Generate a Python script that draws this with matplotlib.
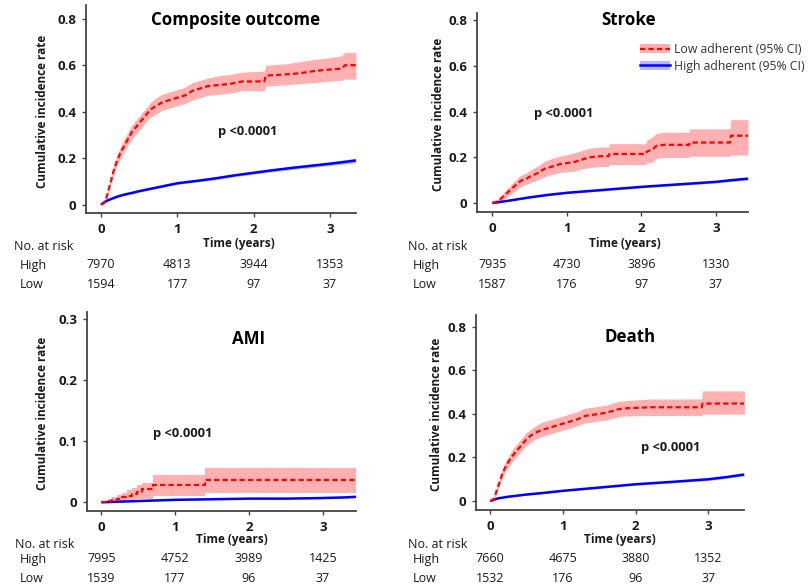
import matplotlib
matplotlib.use("Agg")
import matplotlib.pyplot as plt
from matplotlib.patches import Patch
from matplotlib.lines import Line2D
from matplotlib.transforms import blended_transform_factory

W, H = 809, 586
plt.rcParams['font.family'] = ['Open Sans', 'DejaVu Sans']

# ---------------- data ----------------
titles = ["Composite outcome", "Stroke", "AMI", "Death"]
time_ticks = [0, 1, 2, 3]
time_tick_labels = ["0", "1", "2", "3"]
yticks_main = [0, 0.2, 0.4, 0.6, 0.8]
ytick_labels_main = ["0", "0.2", "0.4", "0.6", "0.8"]
yticks_ami = [0, 0.1, 0.2, 0.3]
ytick_labels_ami = ["0", "0.1", "0.2", "0.3"]
risk_groups = ["High", "Low"]
p_text = "p <0.0001"
legend_labels = ["Low adherent (95% CI)", "High adherent (95% CI)"]

# Composite outcome
comp_low_t = [0, 0.05, 0.08, 0.12, 0.16, 0.2, 0.25, 0.3, 0.35, 0.4, 0.45, 0.5, 0.55, 0.6, 0.65, 0.7, 0.75, 0.8, 0.9, 1.0, 1.1, 1.2, 1.3, 1.4, 1.55, 1.7, 1.85, 2.14, 2.16, 2.4, 2.6, 2.8, 2.95, 3.15, 3.2, 3.34]
comp_low_v = [0, 0.01, 0.04, 0.09, 0.14, 0.18, 0.22, 0.25, 0.28, 0.31, 0.33, 0.35, 0.37, 0.39, 0.41, 0.42, 0.43, 0.44, 0.45, 0.46, 0.47, 0.49, 0.50, 0.51, 0.515, 0.52, 0.53, 0.53, 0.555, 0.56, 0.565, 0.575, 0.58, 0.585, 0.60, 0.60]
comp_low_lo = [0, 0.005, 0.03, 0.075, 0.12, 0.16, 0.195, 0.225, 0.255, 0.28, 0.30, 0.32, 0.34, 0.36, 0.375, 0.385, 0.395, 0.405, 0.415, 0.425, 0.435, 0.45, 0.46, 0.47, 0.475, 0.48, 0.49, 0.49, 0.51, 0.515, 0.52, 0.525, 0.53, 0.535, 0.54, 0.54]
comp_low_hi = [0, 0.02, 0.055, 0.105, 0.16, 0.20, 0.245, 0.28, 0.31, 0.34, 0.36, 0.38, 0.40, 0.42, 0.44, 0.455, 0.465, 0.475, 0.485, 0.495, 0.505, 0.525, 0.535, 0.545, 0.555, 0.56, 0.57, 0.575, 0.60, 0.605, 0.615, 0.625, 0.63, 0.64, 0.655, 0.655]
comp_high_t = [0, 0.05, 0.1, 0.2, 0.3, 0.4, 0.5, 0.75, 1.0, 1.25, 1.5, 1.75, 2.0, 2.25, 2.5, 2.75, 3.0, 3.15, 3.34]
comp_high_v = [0, 0.012, 0.02, 0.033, 0.043, 0.05, 0.058, 0.075, 0.092, 0.102, 0.113, 0.126, 0.137, 0.148, 0.158, 0.167, 0.176, 0.182, 0.19]
comp_high_ci = [0, 0.002, 0.003, 0.003, 0.004, 0.004, 0.004, 0.005, 0.005, 0.005, 0.006, 0.006, 0.006, 0.007, 0.007, 0.008, 0.008, 0.009, 0.01]
comp_risk_high = [7970, 4813, 3944, 1353]
comp_risk_low = [1594, 177, 97, 37]

# Stroke
strk_low_t = [0, 0.05, 0.1, 0.15, 0.2, 0.25, 0.3, 0.35, 0.4, 0.45, 0.5, 0.6, 0.7, 0.8, 0.9, 1.0, 1.1, 1.2, 1.3, 1.45, 1.56, 1.57, 2.06, 2.07, 2.15, 2.2, 2.3, 2.64, 2.65, 3.19, 3.2, 3.43]
strk_low_v = [0, 0.005, 0.015, 0.03, 0.045, 0.06, 0.075, 0.09, 0.10, 0.105, 0.115, 0.13, 0.15, 0.16, 0.17, 0.175, 0.18, 0.19, 0.20, 0.205, 0.205, 0.215, 0.215, 0.225, 0.235, 0.25, 0.255, 0.255, 0.265, 0.265, 0.295, 0.295]
strk_low_lo = [0, 0, 0.005, 0.015, 0.028, 0.04, 0.052, 0.065, 0.075, 0.08, 0.088, 0.10, 0.115, 0.125, 0.133, 0.137, 0.14, 0.15, 0.155, 0.16, 0.16, 0.168, 0.168, 0.175, 0.18, 0.195, 0.2, 0.2, 0.205, 0.205, 0.21, 0.21]
strk_low_hi = [0, 0.012, 0.028, 0.047, 0.063, 0.08, 0.098, 0.113, 0.125, 0.13, 0.143, 0.16, 0.183, 0.195, 0.205, 0.212, 0.22, 0.23, 0.24, 0.245, 0.245, 0.26, 0.26, 0.275, 0.29, 0.305, 0.31, 0.31, 0.325, 0.325, 0.365, 0.365]
strk_high_t = [0, 0.25, 0.5, 0.75, 1.0, 1.5, 2.0, 2.5, 3.0, 3.2, 3.43]
strk_high_v = [0, 0.012, 0.025, 0.036, 0.045, 0.058, 0.071, 0.082, 0.093, 0.1, 0.107]
strk_high_ci = [0, 0.002, 0.003, 0.003, 0.003, 0.004, 0.004, 0.005, 0.005, 0.006, 0.006]
strk_risk_high = [7935, 4730, 3896, 1330]
strk_risk_low = [1587, 176, 97, 37]

# AMI (step function)
ami_low_t = [0, 0.1, 0.15, 0.22, 0.28, 0.35, 0.42, 0.48, 0.55, 0.7, 1.4, 3.45]
ami_low_v = [0, 0.002, 0.004, 0.006, 0.008, 0.011, 0.014, 0.017, 0.021, 0.029, 0.037, 0.037]
ami_low_lo = [0, 0, 0.0005, 0.001, 0.002, 0.003, 0.004, 0.005, 0.006, 0.010, 0.015, 0.015]
ami_low_hi = [0, 0.006, 0.009, 0.012, 0.016, 0.02, 0.024, 0.028, 0.032, 0.044, 0.057, 0.057]
ami_high_t = [0, 0.5, 1.0, 1.5, 2.0, 2.5, 3.0, 3.3, 3.45]
ami_high_v = [0, 0.002, 0.004, 0.005, 0.006, 0.006, 0.007, 0.008, 0.009]
ami_high_ci = [0, 0.0005, 0.0008, 0.001, 0.001, 0.001, 0.0012, 0.0014, 0.0015]
ami_risk_high = [7995, 4752, 3989, 1425]
ami_risk_low = [1539, 177, 96, 37]

# Death
death_low_t = [0, 0.05, 0.08, 0.12, 0.16, 0.2, 0.25, 0.3, 0.35, 0.4, 0.45, 0.5, 0.55, 0.6, 0.7, 0.8, 0.9, 1.0, 1.1, 1.2, 1.3, 1.4, 1.6, 1.75, 1.85, 2.2, 2.91, 2.92, 3.5]
death_low_v = [0, 0.01, 0.04, 0.08, 0.12, 0.15, 0.18, 0.205, 0.225, 0.245, 0.265, 0.285, 0.298, 0.31, 0.325, 0.335, 0.345, 0.355, 0.365, 0.375, 0.39, 0.395, 0.405, 0.42, 0.425, 0.43, 0.43, 0.447, 0.447]
death_low_lo = [0, 0.005, 0.028, 0.065, 0.1, 0.13, 0.155, 0.18, 0.2, 0.22, 0.24, 0.255, 0.268, 0.28, 0.295, 0.305, 0.315, 0.325, 0.335, 0.345, 0.358, 0.362, 0.372, 0.385, 0.39, 0.392, 0.392, 0.398, 0.398]
death_low_hi = [0, 0.015, 0.05, 0.095, 0.14, 0.175, 0.205, 0.235, 0.255, 0.275, 0.295, 0.315, 0.328, 0.34, 0.36, 0.37, 0.38, 0.39, 0.4, 0.41, 0.425, 0.43, 0.44, 0.455, 0.46, 0.468, 0.468, 0.505, 0.505]
death_high_t = [0, 0.1, 0.25, 0.5, 0.75, 1.0, 1.5, 2.0, 2.5, 3.0, 3.25, 3.5]
death_high_v = [0, 0.012, 0.02, 0.03, 0.038, 0.047, 0.062, 0.077, 0.088, 0.1, 0.11, 0.122]
death_high_ci = [0, 0.002, 0.002, 0.003, 0.003, 0.003, 0.004, 0.004, 0.005, 0.006, 0.006, 0.007]
death_risk_high = [7660, 4675, 3880, 1352]
death_risk_low = [1532, 176, 96, 37]

# ---------------- layout (pixels) ----------------
panels = [
    dict(title=titles[0], rect=(86, 5, 356, 213), xlim=(-0.197, 3.342), ylim=(-0.036, 0.859),
         yt=yticks_main, ytl=ytick_labels_main, step=False,
         low=(comp_low_t, comp_low_v, comp_low_lo, comp_low_hi),
         high=(comp_high_t, comp_high_v, comp_high_ci),
         risk=(comp_risk_high, comp_risk_low),
         title_xy=(236, 20), p_xy=(218, 132), xlab_x=239, xlab_y=244,
         ylab_x=43, risk_x0=14, risk_x1=20, risk_y=(246, 265, 285)),
    dict(title=titles[1], rect=(477, 13, 748, 212), xlim=(-0.206, 3.43), ylim=(-0.039, 0.832),
         yt=yticks_main, ytl=ytick_labels_main, step=False,
         low=(strk_low_t, strk_low_v, strk_low_lo, strk_low_hi),
         high=(strk_high_t, strk_high_v, strk_high_ci),
         risk=(strk_risk_high, strk_risk_low),
         title_xy=(629, 20), p_xy=(534, 113), xlab_x=625, xlab_y=244,
         ylab_x=438, risk_x0=408, risk_x1=413, risk_y=(246, 265, 285)),
    dict(title=titles[2], rect=(87, 312, 356, 511), xlim=(-0.193, 3.45), ylim=(-0.0143, 0.312),
         yt=yticks_ami, ytl=ytick_labels_ami, step=True,
         low=(ami_low_t, ami_low_v, ami_low_lo, ami_low_hi),
         high=(ami_high_t, ami_high_v, ami_high_ci),
         risk=(ami_risk_high, ami_risk_low),
         title_xy=(249, 339), p_xy=(153, 434), xlab_x=232, xlab_y=539,
         ylab_x=43, risk_x0=15, risk_x1=20, risk_y=(545, 559, 578)),
    dict(title=titles[3], rect=(476, 315, 744, 510), xlim=(-0.197, 3.49), ylim=(-0.041, 0.853),
         yt=yticks_main, ytl=ytick_labels_main, step=False,
         low=(death_low_t, death_low_v, death_low_lo, death_low_hi),
         high=(death_high_t, death_high_v, death_high_ci),
         risk=(death_risk_high, death_risk_low),
         title_xy=(630, 337), p_xy=(641, 447), xlab_x=620, xlab_y=539,
         ylab_x=437, risk_x0=408, risk_x1=413, risk_y=(545, 559, 578)),
]

RED = "#FF0000"
BLUE = "#0000FF"
RED_BAND = "#FFB0B0"
BLUE_BAND = "#B8B8FF"
SPINE = "#444444"
TXT = "#1a1a1a"
RED_DASH = (0, (2.4, 1.4))

fig = plt.figure(figsize=(W / 100, H / 100), dpi=100)

def fx(px):
    return px / W

def fy(py):
    return 1 - py / H

for p in panels:
    l, t, r, b = p["rect"]
    ax = fig.add_axes([fx(l), fy(b), (r - l) / W, (b - t) / H])
    lt, lv, llo, lhi = p["low"]
    ht, hv, hci = p["high"]
    if p["step"]:
        ax.fill_between(lt, llo, lhi, step="post", color=RED_BAND, lw=0)
    else:
        ax.fill_between(lt, llo, lhi, color=RED_BAND, lw=0)
    ax.fill_between(ht, [v - c for v, c in zip(hv, hci)], [v + c for v, c in zip(hv, hci)],
                    color=BLUE_BAND, lw=0)
    ax.plot(ht, hv, color=BLUE, lw=1.8, solid_capstyle="butt")
    ax.plot(lt, lv, color=RED, lw=1.6, ls=RED_DASH,
            drawstyle="steps-post" if p["step"] else "default")
    ax.set_xlim(*p["xlim"])
    ax.set_ylim(*p["ylim"])
    ax.set_xticks(time_ticks)
    ax.set_xticklabels(time_tick_labels)
    ax.set_yticks(p["yt"])
    ax.set_yticklabels(p["ytl"])
    for s in ("top", "right"):
        ax.spines[s].set_visible(False)
    for s in ("left", "bottom"):
        ax.spines[s].set_color(SPINE)
        ax.spines[s].set_linewidth(1.3)
    ax.tick_params(axis="both", length=3, width=1.0, color=SPINE, labelsize=9.5,
                   labelcolor=TXT, pad=4)
    for lab in ax.get_xticklabels() + ax.get_yticklabels():
        lab.set_fontweight("bold")

    # title, p-value
    fig.text(fx(p["title_xy"][0]), fy(p["title_xy"][1]), p["title"], ha="center", va="center",
             fontsize=12.2, fontweight="bold", color="black")
    fig.text(fx(p["p_xy"][0]), fy(p["p_xy"][1]), p_text, ha="left", va="center",
             fontsize=9.3, fontweight="bold", color=TXT)
    # axis labels
    fig.text(fx(p["xlab_x"]), fy(p["xlab_y"]), "Time (years)", ha="center", va="center",
             fontsize=8.5, fontweight="bold", color=TXT)
    fig.text(fx(p["ylab_x"]), fy((t + b) / 2 + 2), "Cumulative incidence rate", ha="center",
             va="center", rotation=90, fontsize=8.5, fontweight="bold", color=TXT)
    # risk table
    ry0, ry1, ry2 = p["risk_y"]
    fig.text(fx(p["risk_x0"]), fy(ry0), "No. at risk", ha="left", va="center",
             fontsize=9, color=TXT)
    tr = blended_transform_factory(ax.transData, fig.transFigure)
    for grp, row, yy in zip(risk_groups, p["risk"], (ry1, ry2)):
        fig.text(fx(p["risk_x1"]), fy(yy), grp, ha="left", va="center", fontsize=9, color=TXT)
        for tt, n in zip(time_ticks, row):
            ax.text(tt, fy(yy), str(n), transform=tr, ha="center", va="center",
                    fontsize=9, color=TXT, clip_on=False)

# legend in Stroke panel
h_low = (Patch(facecolor=RED_BAND, edgecolor="none"),
         Line2D([], [], color=RED, lw=1.6, ls=RED_DASH))
h_high = (Patch(facecolor=BLUE_BAND, edgecolor="none"),
          Line2D([], [], color=BLUE, lw=1.8))
fig.legend([h_low, h_high], legend_labels, loc="upper left",
           bbox_to_anchor=(fx(640), fy(43)), frameon=False, fontsize=8.8,
           handlelength=2.45, handletextpad=0.35, labelspacing=0.3,
           borderaxespad=0, borderpad=0, labelcolor="#333333")

fig.savefig("out.png", dpi=100)
